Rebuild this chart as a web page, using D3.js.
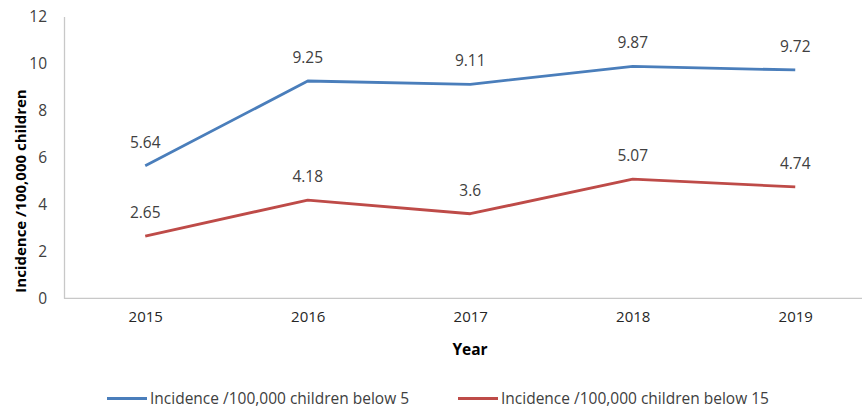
<!DOCTYPE html>
<html>
<head>
<meta charset="utf-8">
<script src="https://cdn.jsdelivr.net/npm/d3@7"></script>
<style>
  html, body { margin: 0; padding: 0; background: #fff; }
  svg { display: block; font-family: "Open Sans", "Noto Sans", sans-serif; }
</style>
</head>
<body>
<svg id="chart" width="862" height="407"></svg>
<script>
// Incidence per 100,000 children, by year
const years = ["2015", "2016", "2017", "2018", "2019"];
const below5 = [5.64, 9.25, 9.11, 9.87, 9.72];
const below15 = [2.65, 4.18, 3.6, 5.07, 4.74];
const yTicks = [0, 2, 4, 6, 8, 10, 12];
const seriesNames = ["Incidence /100,000 children below 5", "Incidence /100,000 children below 15"];

const series = [
  { name: seriesNames[0], values: below5, color: "#4A7EBB" },
  { name: seriesNames[1], values: below15, color: "#BE4B48" }
];

const svg = d3.select("#chart");
const axisColor = "#C8C8C8";
const textColor = "#404040";

const plotLeft = 64, plotTop = 16.4, plotBottom = 298.3;
const band = 162.5;

const x = d3.scalePoint().domain(years).range([plotLeft + band / 2, plotLeft + band * 4.5]);
const y = d3.scaleLinear().domain([0, 12]).range([plotBottom, plotTop]);

// y axis
const yAxis = svg.append("g")
  .attr("transform", `translate(${plotLeft},0)`)
  .call(d3.axisLeft(y).tickValues(yTicks).tickSize(0).tickPadding(17));
yAxis.select(".domain").attr("stroke", axisColor).attr("stroke-width", 1.3);
yAxis.selectAll("text").attr("font-size", 15.5).attr("fill", textColor)
  .attr("font-family", "Open Sans");

// x axis
const xAxis = svg.append("g")
  .attr("transform", `translate(0,${plotBottom})`)
  .call(d3.axisBottom(x).tickSize(0).tickPadding(13));
xAxis.select(".domain")
  .attr("d", `M${plotLeft},0H${plotLeft + band * 5}`)
  .attr("stroke", axisColor).attr("stroke-width", 1.3);
xAxis.selectAll("text").attr("font-size", 15).attr("fill", "#262626")
  .attr("font-family", "Open Sans");

// axis titles
svg.append("text")
  .attr("transform", "translate(26,191) rotate(-90)")
  .attr("text-anchor", "middle")
  .attr("font-size", 15).attr("font-weight", "bold").attr("fill", "#000")
  .text("Incidence /100,000 children");

svg.append("text")
  .attr("x", 470).attr("y", 355)
  .attr("text-anchor", "middle")
  .attr("font-size", 15.5).attr("font-weight", "bold").attr("fill", "#000")
  .text("Year");

// lines and value labels
const line = d3.line()
  .x((d, i) => x(years[i]))
  .y(d => y(d));

series.forEach(s => {
  svg.append("path")
    .datum(s.values)
    .attr("fill", "none")
    .attr("stroke", s.color)
    .attr("stroke-width", 2.8)
    .attr("stroke-linejoin", "round")
    .attr("d", line);

  svg.append("g").selectAll("text")
    .data(s.values)
    .join("text")
    .attr("x", (d, i) => x(years[i]))
    .attr("y", d => y(d) - 18)
    .attr("text-anchor", "middle")
    .attr("font-size", 15.5)
    .attr("fill", textColor)
    .text(d => d);
});

// legend
const legendX = [107, 458];
const legend = svg.append("g");
series.forEach((s, i) => {
  legend.append("line")
    .attr("x1", legendX[i]).attr("x2", legendX[i] + 40)
    .attr("y1", 398.5).attr("y2", 398.5)
    .attr("stroke", s.color).attr("stroke-width", 2.8);
  legend.append("text")
    .attr("x", legendX[i] + 43).attr("y", 403.5)
    .attr("font-size", 15.5).attr("fill", textColor)
    .text(s.name);
});
</script>
</body>
</html>
